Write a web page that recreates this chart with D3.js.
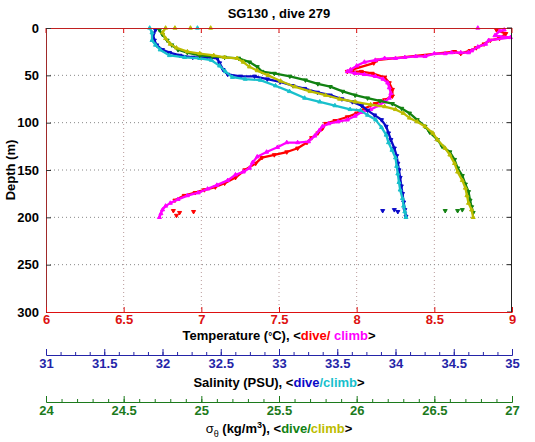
<!DOCTYPE html>
<html><head><meta charset="utf-8">
<script src="https://cdn.jsdelivr.net/npm/d3@7"></script>
<style>
html,body{margin:0;padding:0;background:#fff;}
text{font-family:"Liberation Sans",Arial,sans-serif;}
</style></head>
<body><svg id="c" width="535" height="442"></svg>
<script>
// ---- data: [depth (m), value], ordered along each profile ----
const tempDive = [[2,8.90],[6,8.96],[11,8.92],[13,8.86],[17,8.82],[21,8.77],[24,8.73],[27,8.67],[25,8.63],
 [34,8.13],[37,8.11],[44,7.97],[46,7.94],[46,8.03],[48,8.10],[52,8.18],[58,8.21],[65,8.23],[72,8.23],[76,8.18],[80,8.12],
 [85,8.05],[90,8.00],[94,7.94],[98,7.86],[101,7.80],[106,7.78],[111,7.75],[116,7.71],[121,7.68],[127,7.62],[131,7.55],
 [134,7.47],[137,7.39],[143,7.35],[150,7.28],[158,7.22],[164,7.15],[168,7.09],[171,7.02],[174,6.96],[177,6.89],[182,6.83]];
const tempDiveStray = [[193,6.82],[195,6.86],[194,6.95],[198,6.84]];
const tempClimb = [[2,8.95],[3,8.92],[8,8.89],[10,8.99],[13,8.85],[17,8.83],[20,8.78],[24,8.74],[26,8.72],[26,8.67],
 [26,8.61],[27,8.57],[27,8.50],[30,8.44],[30,8.38],[31,8.31],[32,8.25],[32,8.18],[34,8.12],[36,8.05],[40,8.00],[44,7.96],
 [46,7.94],[48,7.99],[49,8.05],[51,8.12],[54,8.17],[58,8.20],[63,8.21],[69,8.22],[74,8.21],[78,8.18],[82,8.14],[86,8.09],
 [89,8.03],[93,7.99],[97,7.94],[99,7.88],[101,7.82],[104,7.78],[108,7.76],[114,7.73],[120,7.69],[121,7.62],[121,7.55],
 [126,7.49],[131,7.42],[136,7.36],[142,7.33],[148,7.31],[152,7.27],[155,7.22],[161,7.17],[166,7.10],[170,7.04],[174,6.98],
 [177,6.91],[181,6.85],[185,6.80],[188,6.77],[192,6.75],[196,6.74],[200,6.73]];
const tempClimbStray = [[0,8.78]];
const salDive = [[2,31.94],[7,31.92],[13,31.93],[18,31.95],[23,32.00],[26,32.06],[29,32.15],[31,32.26],[31,32.38],[32,32.47],
 [37,32.49],[44,32.52],[49,32.56],[51,32.67],[51,32.79],[54,32.90],[57,33.01],[61,33.12],[64,33.22],[68,33.33],[71,33.44],
 [75,33.54],[78,33.63],[82,33.71],[87,33.76],[92,33.82],[97,33.88],[104,33.92],[111,33.94],[118,33.96],[127,33.99],
 [135,34.01],[143,34.02],[150,34.03],[158,34.04],[167,34.05],[175,34.06],[184,34.07],[192,34.08],[199,34.09]];
const salDiveStray = [[193,33.89],[192,33.99],[194,34.02]];
const salClimb = [[0,31.89],[5,31.91],[13,31.91],[18,31.94],[23,31.98],[29,32.06],[31,32.19],[32,32.32],[34,32.42],[40,32.49],
 [46,32.54],[52,32.60],[54,32.71],[55,32.84],[61,32.97],[67,33.09],[74,33.22],[78,33.35],[82,33.48],[86,33.61],[87,33.70],
 [92,33.76],[97,33.83],[105,33.88],[113,33.92],[121,33.94],[129,33.97],[137,34.00],[146,34.01],[154,34.02],[163,34.03],
 [171,34.04],[180,34.06],[188,34.07],[194,34.08],[200,34.09]];
const salClimbStray = [[0,32.30]];
const sigDive = [[2,24.73],[7,24.75],[13,24.78],[18,24.81],[23,24.85],[26,24.91],[29,24.99],[30,25.07],[31,25.15],[32,25.24],
 [36,25.31],[41,25.36],[46,25.39],[48,25.47],[51,25.57],[55,25.67],[59,25.75],[62,25.83],[67,25.91],[71,25.99],[74,26.07],
 [77,26.15],[80,26.23],[85,26.29],[90,26.34],[97,26.39],[104,26.44],[110,26.47],[118,26.52],[125,26.55],[131,26.60],
 [139,26.63],[148,26.65],[156,26.68],[165,26.70],[173,26.72],[182,26.73],[189,26.74],[195,26.75]];
const sigDiveStray = [[193,26.57],[193,26.65],[192,26.68]];
const sigClimb = [[0,24.77],[5,24.75],[11,24.77],[17,24.80],[21,24.84],[25,24.91],[27,24.99],[29,25.08],[31,25.15],[32,25.23],
 [36,25.27],[41,25.31],[45,25.36],[50,25.43],[56,25.51],[62,25.60],[67,25.70],[71,25.80],[75,25.89],[78,25.99],[81,26.09],
 [83,26.18],[86,26.25],[90,26.30],[95,26.34],[99,26.39],[104,26.44],[111,26.49],[118,26.52],[127,26.57],[134,26.60],
 [143,26.63],[152,26.65],[161,26.68],[169,26.70],[177,26.71],[185,26.72],[192,26.74],[200,26.75]];
const sigClimbStray = [[0,24.83],[0,24.93],[0,25.06]];

const depthTicks = [0,50,100,150,200,250,300];
const tempTicks = [6,6.5,7,7.5,8,8.5,9];
const salTicks = [31,31.5,32,32.5,33,33.5,34,34.5,35];
const sigTicks = [24,24.5,25,25.5,26,26.5,27];

// ---- layout ----
const L = 46, R = 512, T = 28, B = 312;
const svg = d3.select("#c");
const y = d3.scaleLinear().domain([0,300]).range([T,B]);
const xT = d3.scaleLinear().domain([6,9]).range([L,R]);
const xS = d3.scaleLinear().domain([31,35]).range([L,R]);
const xG = d3.scaleLinear().domain([24,27]).range([L,R]);

const cRed = "#ff0000", cMag = "#ff00ff", cBlue = "#0a0ac8", cCyan = "#18c0cc", cGreen = "#128212", cOlive = "#bcbc00";
const aRed = "#dd1111", aBlue = "#2424a8", aGreen = "#1c7a1c";

// grid
svg.append("g").selectAll("line").data(tempTicks.slice(1,-1)).join("line")
  .attr("x1", d => xT(d)).attr("x2", d => xT(d)).attr("y1", T).attr("y2", B)
  .attr("stroke", "#b89a9a").attr("stroke-width", 1).attr("stroke-dasharray", "1,3");
svg.append("g").selectAll("line").data(depthTicks.slice(1,-1)).join("line")
  .attr("y1", d => y(d)).attr("y2", d => y(d)).attr("x1", L).attr("x2", R)
  .attr("stroke", "#888").attr("stroke-width", 1).attr("stroke-dasharray", "1,3");

// data
function drawSeries(data, stray, xs, color, down) {
  const line = d3.line().x(d => xs(d[1])).y(d => y(d[0]));
  svg.append("path").datum(data).attr("d", line).attr("fill", "none")
    .attr("stroke", color).attr("stroke-width", 2.3).attr("stroke-linejoin", "round").attr("stroke-linecap", "round");
  const sym = d3.symbol().type(d3.symbolTriangle).size(7);
  svg.append("g").selectAll("path").data(data.concat(stray)).join("path")
    .attr("d", sym)
    .attr("transform", d => `translate(${xs(d[1])},${y(d[0])}) rotate(${down ? 180 : 0})`)
    .attr("fill", color).attr("stroke", color).attr("stroke-width", 1);
}
drawSeries(tempDive, tempDiveStray, xT, cRed, true);
drawSeries(tempClimb, tempClimbStray, xT, cMag, false);
drawSeries(salDive, salDiveStray, xS, cBlue, true);
drawSeries(salClimb, salClimbStray, xS, cCyan, false);
drawSeries(sigDive, sigDiveStray, xG, cGreen, true);
drawSeries(sigClimb, sigClimbStray, xG, cOlive, false);

// frame
svg.append("line").attr("x1", L).attr("x2", R).attr("y1", T + 0.5).attr("y2", T + 0.5).attr("stroke", "#c02020");
svg.append("line").attr("x1", R - 0.5).attr("x2", R - 0.5).attr("y1", T).attr("y2", B).attr("stroke", "#222");
svg.append("g").selectAll("line").data(tempTicks).join("line")
  .attr("x1", d => xT(d)).attr("x2", d => xT(d)).attr("y1", T).attr("y2", T + 5).attr("stroke", aRed);
svg.append("g").selectAll("line").data(depthTicks).join("line")
  .attr("y1", d => y(d)).attr("y2", d => y(d)).attr("x1", R - 5).attr("x2", R).attr("stroke", "#222");

// left axis
const gy = svg.append("g").attr("transform", `translate(${L},0)`)
  .call(d3.axisLeft(y).tickValues(depthTicks).tickSizeInner(-5).tickSizeOuter(0).tickPadding(7).tickFormat(d3.format("d")));
gy.select(".domain").attr("stroke", "#a02a2a");
gy.selectAll(".tick line").attr("stroke", "#333");
gy.selectAll("text").attr("fill", "#000").attr("font-size", 13).attr("font-weight", "bold");

// bottom temperature axis
const gx = svg.append("g").attr("transform", `translate(0,${B})`)
  .call(d3.axisBottom(xT).tickValues(tempTicks).tickSizeInner(-5).tickSizeOuter(0).tickPadding(3).tickFormat(d3.format("")));
gx.select(".domain").attr("stroke", aRed);
gx.selectAll(".tick line").attr("stroke", aRed);
gx.selectAll("text").attr("fill", aRed).attr("font-size", 13).attr("font-weight", "bold");

// salinity axis
const yS = 355;
svg.append("g").attr("transform", `translate(0,${yS})`)
  .call(d3.axisBottom(xS).tickValues(d3.range(31, 35.0001, 0.125)).tickSizeInner(-3).tickSizeOuter(0).tickFormat(""))
  .call(g => g.selectAll("line,path").attr("stroke", aBlue));
const gs = svg.append("g").attr("transform", `translate(0,${yS})`)
  .call(d3.axisBottom(xS).tickValues(salTicks).tickSizeInner(-6).tickSizeOuter(0).tickPadding(4).tickFormat(d3.format("")));
gs.selectAll("line,path").attr("stroke", aBlue);
gs.selectAll("text").attr("fill", aBlue).attr("font-size", 13).attr("font-weight", "bold");

// sigma axis
const yG = 402;
svg.append("g").attr("transform", `translate(0,${yG})`)
  .call(d3.axisBottom(xG).tickValues(d3.range(24, 27.0001, 0.1)).tickSizeInner(-3).tickSizeOuter(0).tickFormat(""))
  .call(g => g.selectAll("line,path").attr("stroke", aGreen));
const gg = svg.append("g").attr("transform", `translate(0,${yG})`)
  .call(d3.axisBottom(xG).tickValues(sigTicks).tickSizeInner(-6).tickSizeOuter(0).tickPadding(4).tickFormat(d3.format("")));
gg.selectAll("line,path").attr("stroke", aGreen);
gg.selectAll("text").attr("fill", aGreen).attr("font-size", 13).attr("font-weight", "bold");

// titles
const cx = (L + R) / 2;
svg.append("text").attr("x", cx).attr("y", 18).attr("text-anchor", "middle")
  .attr("font-size", 13).attr("font-weight", "bold").text("SG130 , dive 279");
svg.append("text").attr("transform", `translate(15,${(T + B) / 2}) rotate(-90)`).attr("text-anchor", "middle")
  .attr("font-size", 13).attr("font-weight", "bold").text("Depth (m)");

function title(yy, parts) {
  const t = svg.append("text").attr("x", cx).attr("y", yy).attr("text-anchor", "middle")
    .attr("font-size", 13).attr("font-weight", "bold");
  parts.forEach(p => {
    const s = t.append("tspan").attr("fill", p[1]).text(p[0]);
    if (p[2]) s.attr("dy", p[2]);
    if (p[3]) s.attr("font-size", p[3]);
  });
}
title(340, [["Temperature (", "#000"], ["°", "#000", 0, 10], ["C), <", "#000"], ["dive/", cRed], [" climb", cMag], [">", "#000"]]);
title(387, [["Salinity (PSU), <", "#000"], ["dive", cBlue], ["/climb", cCyan], [">", "#000"]]);
const tg = svg.append("text").attr("x", cx).attr("y", 433).attr("text-anchor", "middle")
  .attr("font-size", 13).attr("font-weight", "bold");
tg.append("tspan").attr("fill", "#000").attr("font-weight", "normal").text("σ");
tg.append("tspan").attr("fill", "#000").attr("font-size", 9).attr("font-weight", "normal").attr("dy", 4).text("θ");
tg.append("tspan").attr("fill", "#000").attr("dy", -4).text(" (kg/m");
tg.append("tspan").attr("fill", "#000").attr("font-size", 9).attr("dy", -5).text("3");
tg.append("tspan").attr("fill", "#000").attr("dy", 5).text("), <");
tg.append("tspan").attr("fill", cGreen).text("dive/");
tg.append("tspan").attr("fill", cOlive).text("climb");
tg.append("tspan").attr("fill", "#000").text(">");
</script></body></html>
